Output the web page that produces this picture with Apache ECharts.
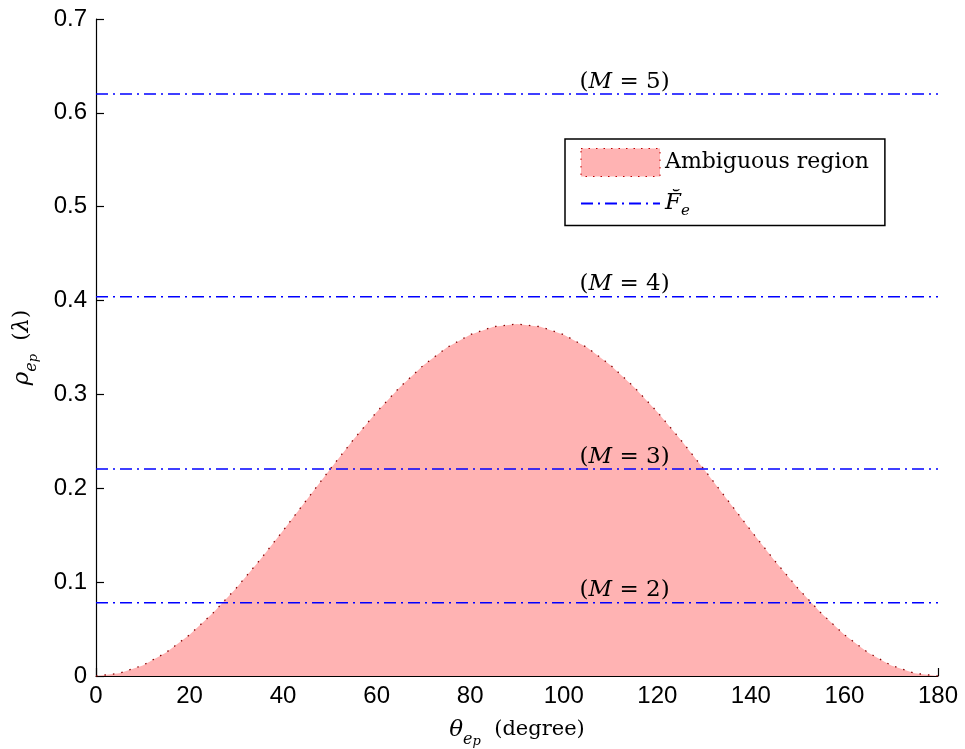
<!DOCTYPE html>
<html>
<head>
<meta charset="utf-8">
<script src="https://cdn.jsdelivr.net/npm/echarts@6/dist/echarts.min.js"></script>
<style>
html,body{margin:0;padding:0;background:#fff;}
#chart{width:965px;height:749px;}
</style>
</head>
<body>
<div id="chart"></div>
<script>
// Data
const thetaDeg = [0,5,10,15,20,25,30,35,40,45,50,55,60,65,70,75,80,85,90,95,100,105,110,115,120,125,130,135,140,145,150,155,160,165,170,175,180];
const rhoAmbiguous = [0,0.0029,0.0113,0.0251,0.0439,0.0670,0.0938,0.1234,0.1549,0.1875,0.2201,0.2516,0.2813,0.3080,0.3311,0.3499,0.3637,0.3722,0.375,0.3722,0.3637,0.3499,0.3311,0.3080,0.2813,0.2516,0.2201,0.1875,0.1549,0.1234,0.0938,0.0670,0.0439,0.0251,0.0113,0.0029,0];
const fLevels = [0.620, 0.404, 0.2205, 0.078];
const mNumbers = [5, 4, 3, 2];
const xTicks = {min:0, max:180, interval:20};
const yTicks = {min:0, max:0.7, interval:0.1};

const SERIF = '"DejaVu Serif", "Liberation Serif", serif';
const SANS = '"Liberation Sans", Arial, sans-serif';
const BLUE = '#0000ff';
const DASHDOT = [12, 5, 2, 5];
const labelX = 113;

const chart = echarts.init(document.getElementById('chart'));

const series = [];
series.push({
  name: 'Ambiguous region',
  type: 'line',
  data: thetaDeg.map((t, i) => [t, rhoAmbiguous[i]]),
  symbol: 'none',
  smooth: false,
  lineStyle: {color: '#8b0000', width: 1.3, type: [1.5, 7]},
  areaStyle: {color: '#ffb3b3', opacity: 1},
  z: 2
});
fLevels.forEach(v => {
  series.push({
    name: 'Fe',
    type: 'line',
    data: [[xTicks.min, v], [xTicks.max, v]],
    symbol: 'none',
    lineStyle: {color: BLUE, width: 1.5, type: DASHDOT},
    itemStyle: {color: BLUE},
    z: 3
  });
});
series.push({
  name: 'labels',
  type: 'scatter',
  symbolSize: 0,
  data: fLevels.map(v => [labelX, v]),
  label: {
    show: true,
    position: 'top',
    distance: 1,
    color: '#000',
    opacity: 1,
    formatter: p => '{n|(}{i|M}{n| = ' + mNumbers[p.dataIndex] + ')}',
    rich: {
      n: {fontFamily: SERIF, fontSize: 23, color: '#000'},
      i: {fontFamily: SERIF, fontSize: 23, fontStyle: 'italic', color: '#000'}
    }
  },
  itemStyle: {opacity: 1},
  z: 4,
  silent: true
});

const nameRich = {
  i: {fontFamily: SERIF, fontSize: 23, fontStyle: 'italic', color: '#000', lineHeight: 36},
  s: {fontFamily: SERIF, fontSize: 16, fontStyle: 'italic', color: '#000', lineHeight: 20, verticalAlign: 'bottom'},
  ss: {fontFamily: SERIF, fontSize: 13, fontStyle: 'italic', color: '#000', lineHeight: 11, verticalAlign: 'bottom'},
  n: {fontFamily: SERIF, fontSize: 21, color: '#000', lineHeight: 36}
};

const option = {
  animation: false,
  backgroundColor: '#fff',
  grid: {left: 96, right: 27, top: 19, bottom: 73, containLabel: false, outerBoundsMode: 'none'},
  legend: {
    orient: 'vertical',
    left: 565,
    top: 139,
    padding: [9, 16, 7, 15],
    itemWidth: 79,
    itemHeight: 28,
    itemGap: 15,
    backgroundColor: '#fff',
    borderColor: '#000',
    borderWidth: 1.5,
    borderRadius: 0,
    data: [
      {name: 'Ambiguous region', icon: 'rect', itemStyle: {color: '#ffb3b3', borderColor: '#c00000', borderWidth: 1, borderType: [1.5, 6]}},
      {name: 'Fe', itemStyle: {color: 'rgba(0,0,0,0)', borderColor: 'rgba(0,0,0,0)', borderWidth: 0}}
    ],
    formatter: name => name === 'Fe' ? '{i|F\u0306}{s|e}' : '{n|Ambiguous region}',
    textStyle: {
      rich: {
        n: {fontFamily: SERIF, fontSize: 22, color: '#000', lineHeight: 30},
        i: {fontFamily: SERIF, fontSize: 23, fontStyle: 'italic', color: '#000', lineHeight: 30},
        s: {fontFamily: SERIF, fontSize: 15, fontStyle: 'italic', color: '#000', lineHeight: 15, verticalAlign: 'bottom'}
      }
    }
  },
  xAxis: {
    type: 'value',
    min: xTicks.min, max: xTicks.max, interval: xTicks.interval,
    axisLine: {show: true, lineStyle: {color: '#000', width: 1.2}},
    axisTick: {show: true, inside: true, length: 8, lineStyle: {color: '#000', width: 1.2}},
    axisLabel: {color: '#000', fontFamily: SANS, fontSize: 24, margin: 8},
    splitLine: {show: false},
    name: '{i|θ}{s|e}{ss|p}{n|  (degree)}',
    nameLocation: 'middle',
    nameGap: 36,
    nameTextStyle: {rich: nameRich}
  },
  yAxis: {
    type: 'value',
    min: yTicks.min, max: yTicks.max, interval: yTicks.interval,
    axisLine: {show: true, lineStyle: {color: '#000', width: 1.2}},
    axisTick: {show: true, inside: true, length: 8, lineStyle: {color: '#000', width: 1.2}},
    axisLabel: {color: '#000', fontFamily: SANS, fontSize: 24, margin: 9},
    splitLine: {show: false},
    name: '{i|ρ}{s|e}{ss|p}{n|  (}{i|λ}{n|)}',
    nameLocation: 'middle',
    nameGap: 56,
    nameRotate: 90,
    nameTextStyle: {rich: nameRich}
  },
  series: series
};
chart.setOption(option);
</script>
</body>
</html>
